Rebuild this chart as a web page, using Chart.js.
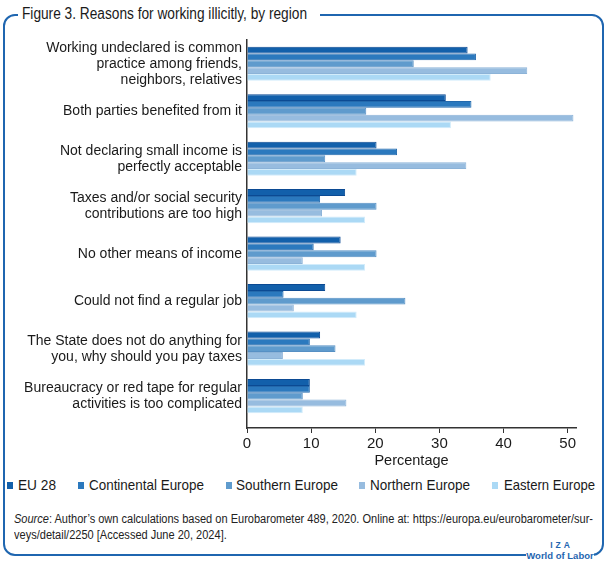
<!DOCTYPE html>
<html>
<head>
<meta charset="utf-8">
<script src="https://cdn.jsdelivr.net/npm/chart.js@4.4.1/dist/chart.umd.min.js"></script>
<style>
body { margin: 0; background: #fff; }
#wrap { position: relative; width: 608px; height: 563px; font-family: 'Liberation Sans', Arial, sans-serif; color: #1a1a1a; }
#frame { position: absolute; left: 3px; top: 14px; width: 601px; height: 542px; box-sizing: border-box; border: 2px solid #1f66b0; border-radius: 12px; }
#title { position: absolute; left: 18px; top: 4px; width: 302px; height: 20px; background: #fff; overflow: hidden; }
#title span { position: absolute; left: 4px; top: 0; font-size: 16px; line-height: 20px; white-space: nowrap; }
#chartBox { position: absolute; left: 0; top: 0; width: 608px; height: 472px; }
#legend { position: absolute; left: 0; top: 475px; width: 608px; height: 20px; font-size: 14.5px; }
#legend .box { position: absolute; top: 7px; width: 6px; height: 7px; }
#legend span { position: absolute; top: 0; line-height: 20px; white-space: nowrap; }
.src { position: absolute; left: 14px; font-size: 12.5px; line-height: 16px; white-space: nowrap; color: #222; }
#logo { position: absolute; left: 526px; top: 541px; width: 68px; background: #fff; color: #1f66b0; font-weight: bold; text-align: center; }
#logo .iza { font-size: 8.5px; line-height: 9px; letter-spacing: 3px; padding-left: 3px; }
#logo .wol { font-size: 9.5px; line-height: 12px; }
</style>
</head>
<body>
<div id="wrap">
	<div id="frame"></div>
	<div id="title"><span>Figure 3. Reasons for working illicitly, by region</span></div>
	<div id="chartBox"><canvas id="chart"></canvas></div>
	<div id="legend"></div>
	<span class="src" id="src1" style="top:511px"><i>Source</i>: Author’s own calculations based on Eurobarometer 489, 2020. Online at: https://europa.eu/eurobarometer/sur-</span>
	<span class="src" id="src2" style="top:527px">veys/detail/2250 [Accessed June 20, 2024].</span>
	<div id="logo"><div class="iza">IZA</div><div class="wol">World of Labor</div></div>
</div>
<script>
var reasons = [
	["Working undeclared is common", "practice among friends,", "neighbors, relatives"],
	["Both parties benefited from it"],
	["Not declaring small income is", "perfectly acceptable"],
	["Taxes and/or social security", "contributions are too high"],
	["No other means of income"],
	["Could not find a regular job"],
	["The State does not do anything for", "you, why should you pay taxes"],
	["Bureaucracy or red tape for regular", "activities is too complicated"]
]

var regions = ["EU 28", "Continental Europe", "Southern Europe", "Northern Europe", "Eastern Europe"]

var eu28 = [34.4, 31.0, 20.2, 15.3, 14.6, 12.2, 11.4, 9.8]
var continental = [35.7, 35.0, 23.4, 11.4, 10.4, 5.7, 9.8, 9.8]
var southern = [26.0, 18.6, 12.2, 20.2, 20.2, 24.7, 13.8, 8.7]
var northern = [43.7, 50.9, 34.2, 11.7, 8.7, 7.3, 5.6, 15.5]
var eastern = [38.0, 31.8, 17.1, 18.4, 18.4, 17.1, 18.4, 8.7]

var xTicks = [0, 10, 20, 30, 40, 50]

var fills = ['#1260ab', '#2b79be', '#5f9bcd', '#97bcdf', '#abd9f5']
var edges = ['#0b4a93', '#2369ac', '#5690c4', '#8cb3d8', '#d2ecfb']
var font = "'Liberation Sans', Arial, sans-serif"

// squeeze a text element to the width it has in the figure (narrow typeface)
function fit(el, w)
{
	var k = w / el.getBoundingClientRect().width
	squeeze(el, k)
	return k
}

function squeeze(el, k)
{
	el.style.transformOrigin = '0 0'
	el.style.transform = 'scaleX(' + k + ')'
}

window.onload = function()
{
	var series = [eu28, continental, southern, northern, eastern]
	var datasets = series.map(function(values, k)
	{
		return {
			label: regions[k],
			data: values.map(function(v, i) { return {x: v, y: i} }),
			backgroundColor: fills[k],
			borderColor: edges[k],
			borderWidth: 1,
			categoryPercentage: 0.72,
			barPercentage: 1
		}
	})

	new Chart(document.getElementById('chart'), {
		type: 'bar',
		data: { datasets: datasets },
		options: {
			indexAxis: 'y',
			responsive: true,
			maintainAspectRatio: false,
			animation: false,
			layout: { padding: { top: 40, right: 32, left: 0, bottom: 0 } },
			plugins: {
				legend: { display: false },
				tooltip: { enabled: false }
			},
			scales: {
				x: {
					type: 'linear',
					min: 0,
					max: 51.3,
					afterBuildTicks: function(scale) { scale.ticks = xTicks.map(function(v) { return {value: v} }) },
					afterFit: function(scale) { scale.height = 44 },
					grid: { display: true, drawOnChartArea: false, drawTicks: true, tickLength: 5, color: '#333', lineWidth: 1 },
					border: { display: true, color: '#333', width: 1.5 },
					ticks: { color: '#1a1a1a', padding: 2, font: { family: font, size: 15 } },
					title: { display: true, text: 'Percentage', color: '#1a1a1a', padding: { top: 0, bottom: 2 }, font: { family: font, size: 14.5 } }
				},
				y: {
					type: 'linear',
					reverse: true,
					offset: false,
					min: -0.5,
					max: 7.67,
					afterBuildTicks: function(scale) { scale.ticks = reasons.map(function(r, i) { return {value: i} }) },
					afterFit: function(scale) { scale.width = 247 },
					grid: { display: false, drawTicks: false, offset: false },
					border: { display: true, color: '#333', width: 1.5 },
					ticks: {
						autoSkip: false,
						padding: 5,
						color: '#1a1a1a',
						font: { family: font, size: 14, lineHeight: 1.143 },
						callback: function(v) { return reasons[v] }
					}
				}
			}
		}
	})

	// legend
	var legend = document.getElementById('legend')
	var boxX = [7, 77.7, 226, 358.5, 492]
	var textX = [18.3, 89.3, 236.4, 370, 504]
	var textW = [38, 115, 102, 100, 91]
	regions.forEach(function(name, k)
	{
		var box = document.createElement('div')
		box.className = 'box'
		box.style.left = boxX[k] + 'px'
		box.style.background = fills[k]
		legend.appendChild(box)
		var txt = document.createElement('span')
		txt.style.left = textX[k] + 'px'
		txt.textContent = name
		legend.appendChild(txt)
		fit(txt, textW[k])
	})

	fit(document.querySelector('#title span'), 285)
	var k = fit(document.getElementById('src1'), 579)
	squeeze(document.getElementById('src2'), k)
}
</script>
</body>
</html>
